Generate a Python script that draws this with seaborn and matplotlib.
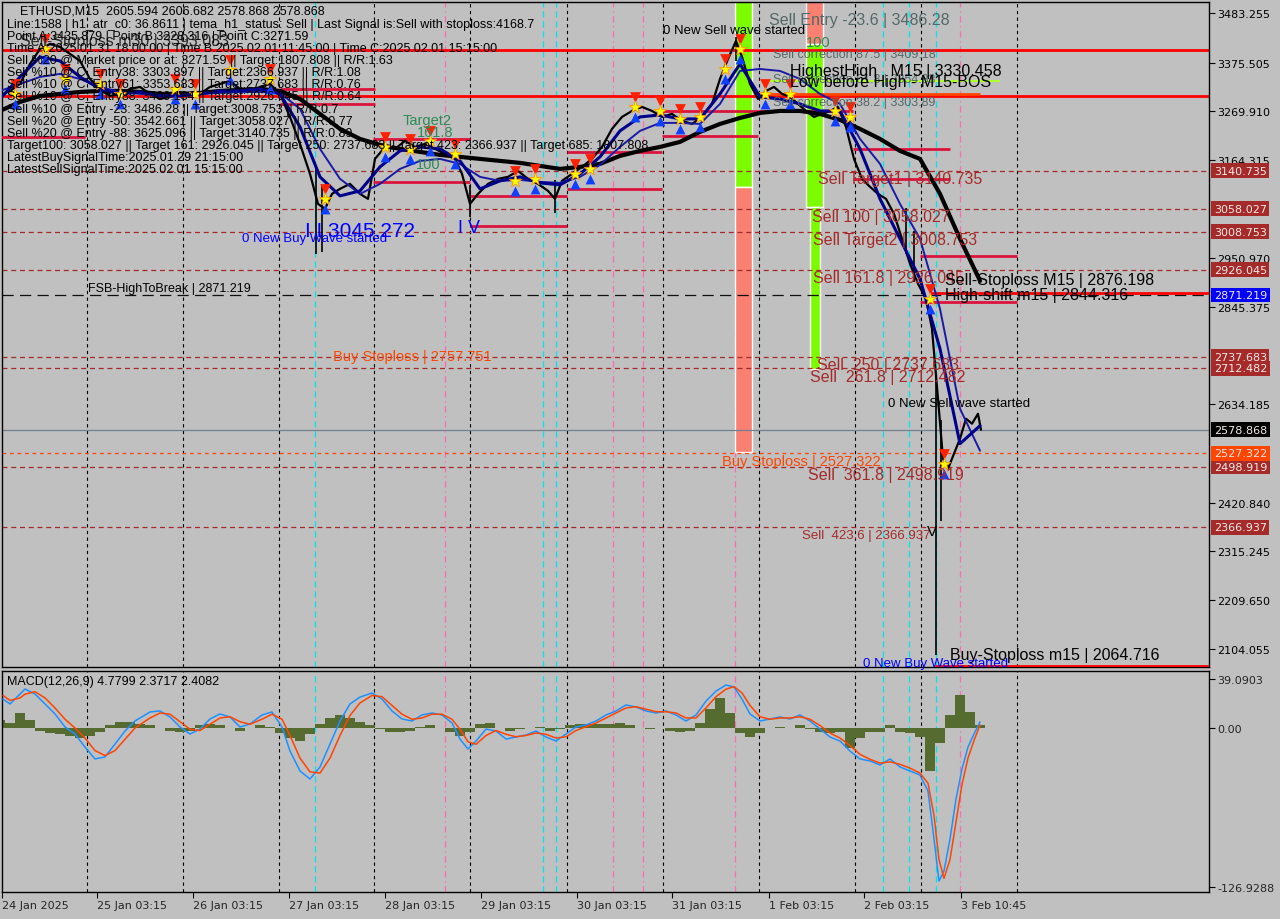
import matplotlib
matplotlib.use('Agg')
import matplotlib.pyplot as plt
import seaborn as sns
from matplotlib.transforms import blended_transform_factory

# ---- price bars (bar position, close) ----
bar_x = [3, 10, 20, 30, 40, 50, 60, 70, 80, 90, 100, 110, 120, 130, 140, 150, 160, 170, 180, 190,
         200, 210, 220, 230, 240, 250, 260, 270, 280, 290, 300, 310, 318, 325, 332, 340, 350, 360, 368,
         375, 385, 395, 405, 415, 425, 435, 445, 455, 462, 470, 478, 488, 498, 508, 518, 528, 538, 548,
         555, 562, 572, 582, 592, 602, 612, 622, 632, 642, 652, 662, 672, 682, 692, 702, 712, 720, 728,
         736, 742, 750, 758, 766, 774, 782, 790, 798, 806, 814, 822, 830, 838, 846, 854, 862, 870, 878,
         886, 894, 902, 910, 918, 926, 932, 938, 943, 948, 954, 960, 966, 972, 978, 981]
close = [3307.6, 3314.1, 3329.3, 3372.7, 3405.2, 3416.0, 3409.5, 3394.4, 3379.2, 3340.1, 3318.4, 3303.3,
         3307.6, 3318.4, 3322.8, 3307.6, 3296.8, 3301.1, 3311.9, 3305.4, 3307.6, 3322.8, 3329.3, 3335.8,
         3318.4, 3314.1, 3322.8, 3329.3, 3307.6, 3257.7, 3199.2, 3134.1, 3069.0, 3058.2, 3090.7, 3101.6,
         3112.4, 3090.7, 3079.9, 3166.6, 3192.6, 3188.3, 3205.7, 3192.6, 3199.2, 3188.3, 3177.5, 3166.6,
         3134.1, 3069.0, 3090.7, 3112.4, 3123.3, 3127.6, 3140.6, 3123.3, 3112.4, 3097.2, 3079.9, 3119.0,
         3134.1, 3149.3, 3166.6, 3192.6, 3231.7, 3257.7, 3270.7, 3279.4, 3270.7, 3257.7, 3264.2, 3249.0,
         3242.5, 3257.7, 3285.9, 3340.1, 3383.5, 3422.5, 3387.8, 3329.3, 3296.8, 3314.1, 3322.8, 3307.6,
         3301.1, 3285.9, 3270.7, 3257.7, 3264.2, 3270.7, 3279.4, 3236.0, 3166.6, 3123.3, 3106.0, 3090.7,
         3079.9, 3047.4, 2993.2, 2939.0, 2895.6, 2863.0, 2798.0, 2646.2, 2516.0, 2494.4, 2526.9, 2559.4,
         2602.8, 2592.0, 2613.6, 2578.868]
wick_x = [316, 322, 470, 555, 736, 906, 914, 936, 941]
wick_low = [2960.6, 2965.0, 3040.9, 3050.0, 3380.0, 2960.0, 2900.0, 2089.0, 2380.0]
wick_high = [3150.0, 3110.0, 3110.0, 3120.0, 3431.2, 3060.0, 3010.0, 2700.0, 2600.0]

# ---- moving averages ----
ma_x = [0, 20, 40, 60, 80, 100, 120, 140, 160, 180, 200, 220, 240, 260, 280, 300, 320, 340, 360, 380,
        400, 420, 440, 460, 480, 500, 520, 540, 560, 580, 600, 620, 640, 660, 680, 700, 720, 740, 760,
        780, 800, 820, 840, 860, 880, 900, 920, 940, 960, 980]
ma_fast = [3296.7, 3344.5, 3387.8, 3379.1, 3344.5, 3318.4, 3307.6, 3311.9, 3303.3, 3303.3, 3307.6, 3314.1,
           3314.1, 3318.4, 3307.6, 3236.0, 3127.6, 3086.4, 3097.2, 3149.3, 3184.0, 3192.6, 3188.3, 3162.3,
           3101.6, 3118.9, 3127.6, 3114.6, 3110.3, 3134.1, 3171.0, 3227.4, 3257.7, 3262.0, 3253.4, 3253.4,
           3307.6, 3372.6, 3301.1, 3296.7, 3285.9, 3270.7, 3270.7, 3188.3, 3079.9, 2993.2, 2906.4, 2754.6,
           2548.6, 2587.6]
ma_mid = [3314.1, 3329.3, 3344.5, 3351.0, 3340.1, 3322.8, 3311.9, 3307.6, 3305.4, 3305.4, 3307.6, 3309.8,
          3311.9, 3311.9, 3309.8, 3275.1, 3188.3, 3123.3, 3090.7, 3112.4, 3144.9, 3162.3, 3166.6, 3155.8,
          3127.6, 3118.9, 3121.1, 3116.8, 3114.6, 3127.6, 3153.6, 3192.6, 3227.4, 3244.7, 3244.7, 3242.5,
          3285.9, 3357.5, 3361.8, 3357.5, 3340.1, 3307.6, 3285.9, 3210.0, 3155.8, 3069.0, 2993.2, 2841.3,
          2624.5, 2533.4]
ma_slow = [3270.7, 3290.2, 3303.3, 3307.6, 3311.9, 3314.1, 3314.1, 3311.9, 3307.6, 3307.6, 3309.8, 3314.1,
           3316.3, 3318.4, 3314.1, 3296.7, 3264.2, 3231.7, 3210.0, 3197.0, 3188.3, 3181.8, 3175.3, 3171.0,
           3166.6, 3162.3, 3158.0, 3151.4, 3144.9, 3149.3, 3155.8, 3173.1, 3184.0, 3192.6, 3203.5, 3225.2,
           3242.5, 3255.5, 3266.4, 3270.7, 3270.7, 3264.2, 3251.2, 3231.7, 3210.0, 3184.0, 3166.6, 3090.7,
           2993.2, 2902.1]

# ---- signal stars ----
star_x = [15, 45, 65, 100, 120, 175, 195, 230, 270, 325, 385, 410, 430, 455, 515, 535, 575, 590, 635,
          660, 680, 700, 725, 740, 765, 790, 835, 850, 930, 944]
star_p = [3307.6, 3405.2, 3340.1, 3329.3, 3307.6, 3318.4, 3307.6, 3359.5, 3340.1, 3079.9, 3192.6, 3188.3,
          3205.7, 3177.5, 3119.0, 3123.3, 3134.1, 3144.9, 3279.4, 3270.7, 3253.4, 3257.7, 3361.8, 3405.2,
          3307.6, 3307.6, 3270.7, 3257.7, 2863.0, 2505.2]

# ---- levels ----
level_prices = [3140.735, 3058.027, 3008.753, 2926.045, 2737.683, 2712.482, 2498.919, 2366.937]
red_full = [3403.18, 3303.89]
seg_x0 = [0, 280, 280, 373, 373, 470, 470, 567, 567, 662, 662, 758, 853, 853, 920, 920]
seg_x1 = [85, 375, 375, 470, 470, 567, 567, 662, 662, 758, 758, 853, 950, 950, 1017, 1017]
seg_p = [3214.3, 3318.4, 3285.9, 3210.0, 3116.8, 3086.4, 3021.3, 3181.8, 3101.6, 3270.7, 3216.5, 3270.7,
         3188.3, 3123.3, 2956.3, 2855.0]
fsb_level = 2871.219
last_price = 2578.868
buy_sl = 2527.322
sell_sl_m15 = 2876.198
buy_sl_m15 = 2066.0

price_ticks = [3483.255, 3375.505, 3269.910, 3164.315, 2950.970, 2845.375, 2634.185, 2420.840,
               2315.245, 2209.650, 2104.055]

# ---- MACD ----
macd_x = [3, 10, 20, 25, 35, 45, 55, 65, 75, 85, 95, 105, 115, 125, 135, 150, 160, 170, 180, 190, 200,
          210, 220, 230, 240, 250, 262, 272, 282, 290, 300, 310, 320, 330, 340, 350, 360, 372, 382, 392,
          402, 412, 422, 432, 442, 452, 460, 468, 476, 486, 496, 506, 516, 526, 536, 546, 556, 566, 576,
          586, 596, 606, 616, 626, 636, 646, 656, 666, 676, 686, 696, 706, 716, 726, 734, 742, 750, 760,
          770, 780, 790, 800, 810, 820, 830, 840, 850, 860, 870, 880, 890, 900, 910, 920, 928, 934, 939,
          944, 950, 956, 962, 968, 974, 980]
macd_main = [23.1, 19.2, 27.1, 31.1, 27.1, 19.2, 11.2, 0.8, -4.8, -15.2, -24.7, -23.1, -12.8, -2.4, 5.6,
             12.8, 13.6, 8.8, 0.8, -4.8, -0.8, 7.2, 11.2, 8.8, 0.8, 3.2, 10.4, 12.8, 0.8, -18.4, -34.3,
             -40.7, -31.1, -12.8, 5.6, 19.2, 24.7, 27.9, 23.1, 13.6, 7.2, 5.6, 10.4, 12.0, 10.4, 4.0, -8.8,
             -16.8, -10.4, -0.8, -2.4, -8.8, -7.2, -5.6, -2.4, -7.2, -10.4, -4.8, 0.8, 2.4, 5.6, 10.4, 13.6,
             18.4, 16.8, 13.6, 12.0, 13.6, 10.4, 5.6, 10.4, 21.5, 29.5, 34.3, 32.7, 23.1, 11.2, 5.6, 7.2,
             8.8, 7.2, 10.4, 5.6, -0.8, -7.2, -10.4, -18.4, -24.7, -26.3, -29.5, -24.7, -31.1, -34.3,
             -37.5, -50.3, -88.6, -122.1, -114.1, -88.6, -56.7, -32.7, -15.2, -4.8, 4.78]
macd_signal = [26, 22, 24, 27, 29, 24, 16, 7, 0, -8, -18, -22, -18, -9, 0, 8, 12, 11, 5, -1, -2, 3, 8, 9,
               5, 3, 7, 11, 7, -6, -24, -35, -36, -24, -6, 10, 20, 26, 25, 18, 11, 7, 8, 11, 11, 7, -1,
               -11, -13, -6, -2, -5, -7, -6, -4, -5, -8, -7, -2, 1, 4, 8, 12, 16, 17, 15, 13, 13, 12, 8, 8,
               16, 25, 31, 33, 28, 18, 9, 7, 8, 8, 9, 7, 2, -4, -8, -14, -21, -25, -28, -27, -29, -32, -36,
               -44, -70, -105, -120, -105, -75, -45, -24, -10, 2.37]
hist_x = [0, 10, 20, 30, 40, 50, 60, 70, 80, 90, 100, 110, 120, 130, 140, 150, 160, 170, 180, 190, 200,
          210, 220, 230, 240, 250, 260, 270, 280, 290, 300, 310, 320, 330, 340, 350, 360, 370, 380, 390,
          400, 410, 420, 430, 440, 450, 460, 470, 480, 490, 500, 510, 520, 530, 540, 550, 560, 570, 580,
          590, 600, 610, 620, 630, 640, 650, 660, 670, 680, 690, 700, 710, 720, 730, 740, 750, 760, 770,
          780, 790, 800, 810, 820, 830, 840, 850, 860, 870, 880, 890, 900, 910, 920, 930, 940, 950, 960,
          970, 980]
hist = [6, 4, 12, 6, -2, -4, -5, -6, -8, -6, -3, 2, 5, 5, 3, 2, 0, -2, -3, -2, 2, 3, 2, 0, -2, 0, 2, 1,
        -4, -8, -10, -5, 3, 8, 10, 8, 5, 2, -1, -3, -3, -2, 1, 2, 0, -3, -6, -3, 3, 4, 0, -2, -1, 0, 1,
        -2, -1, 2, 3, 3, 3, 3, 4, 2, 0, -1, 0, -2, -3, -2, 4, 15, 24, 12, -4, -7, -4, 0, 1, 0, 2, -1, -3,
        -4, -3, -16, -8, -3, -3, 2, -3, -4, -7, -34, -12, 10, 26, 13, 2.4]

date_ticks = [2, 97, 193, 289, 385, 481, 577, 672, 769, 864, 961]
date_labels = ['24 Jan 2025', '25 Jan 03:15', '26 Jan 03:15', '27 Jan 03:15', '28 Jan 03:15',
               '29 Jan 03:15', '30 Jan 03:15', '31 Jan 03:15', '1 Feb 03:15', '2 Feb 03:15',
               '3 Feb 10:45']
grid_x = [87, 183, 279, 374, 470, 567, 663, 759, 855, 921, 1017]
pink_x = [445, 613, 643, 735, 960]
cyan_x = [315, 543, 556, 883, 909, 936]

info_lines = [
    'Line:1588 | h1_atr_c0: 36.8611 | tema_h1_status: Sell | Last Signal is:Sell with stoploss:4168.7',
    'Point A:3435.879 | Point B:3228.316 | Point C:3271.59',
    'Time A:2025.01.31 18:00:00 | Time B:2025.02.01 11:45:00 | Time C:2025.02.01 15:15:00',
    'Sell %20 @ Market price or at: 3271.59 || Target:1807.808 || R/R:1.63',
    'Sell %10 @ C_Entry38: 3303.897 || Target:2366.937 || R/R:1.08',
    'Sell %10 @ C_Entry61: 3353.683 || Target:2737.683 || R/R:0.76',
    'Sell %10 @ C_Entry88: 3409.184 || Target:2926.045 || R/R:0.64',
    'Sell %10 @ Entry -23: 3486.28 || Target:3008.753 || R/R:0.7',
    'Sell %20 @ Entry -50: 3542.661 || Target:3058.027 || R/R:0.77',
    'Sell %20 @ Entry -88: 3625.096 || Target:3140.735 || R/R:0.89',
    'Target100: 3058.027 || Target 161: 2926.045 || Target 250: 2737.683 || Target 423: 2366.937 || Target 685: 1807.808',
    'LatestBuySignalTime:2025.01.29 21:15:00',
    'LatestSellSignalTime:2025.02.01 15:15:00',
]

BG = '#c0c0c0'
BROWN = '#a52a2a'
CRIMSON = '#dc143c'
sns.set_theme(style='white', rc={'axes.facecolor': BG, 'figure.facecolor': BG})
plt.rcParams['font.family'] = ['DejaVu Sans']
OBJ = ['Liberation Sans', 'DejaVu Sans']

fig = plt.figure(figsize=(12.8, 9.2), dpi=100)
W, H = 1280, 920
ax = fig.add_axes([2 / W, 1 - 668 / H, 1207 / W, 665 / H])
axm = fig.add_axes([2 / W, 1 - 893 / H, 1207 / W, 221 / H])

for a in (ax, axm):
    a.set_facecolor(BG)
    a.set_xlim(2, 1209)
    for s in a.spines.values():
        s.set_color('black')
        s.set_linewidth(1.0)
    for gx in grid_x:
        a.axvline(gx, color='black', lw=0.8, ls=(0, (3, 3)), zorder=1)
    for px in pink_x:
        a.axvline(px, color='#ff69b4', lw=0.9, ls=(0, (5, 3, 1, 3)), zorder=1)
    for cx in cyan_x:
        a.axvline(cx, color='#00e5ee', lw=0.9, ls=(0, (5, 3)), zorder=1)

ax.set_ylim(2064.0, 3507.1)
axm.set_ylim(-130.9, 45.5)

# coloured vertical zones
ax.bar(743.5, 3510 - 3105.9, bottom=3105.9, width=17, color='#7cfc00', zorder=1)
ax.bar(743.5, 3105.9 - 2531.3, bottom=2531.3, width=17, color='#fa8072', zorder=1)
ax.bar(814.5, 3510 - 3416.0, bottom=3416.0, width=17, color='#fa8072', zorder=1)
ax.bar(814.5, 3416.0 - 3062.5, bottom=3062.5, width=17, color='#7cfc00', zorder=1)
ax.bar(815, 3062.5 - 2711.2, bottom=2711.2, width=10, color='#7cfc00', zorder=1)

# level lines
for p in level_prices:
    ax.axhline(p, color=BROWN, lw=0.9, ls=(0, (4, 3)), zorder=2)
for p in red_full:
    ax.axhline(p, color='#ff0000', lw=2, zorder=2)
ax.axhline(fsb_level, color='#101010', lw=0.9, ls=(0, (9, 5)), zorder=2)
ax.axhline(buy_sl, color='#ff4500', lw=0.9, ls=(0, (3, 3)), zorder=2)
ax.axhline(last_price, color='#708090', lw=0.9, zorder=2)
ax.hlines(seg_p, seg_x0, seg_x1, color=CRIMSON, lw=2, zorder=3)
ax.hlines([sell_sl_m15, buy_sl_m15], [930, 935], [1209, 1209], color='#ff0000', lw=2, zorder=3)
ax.hlines([3307.6], [770], [980], color='#ff4500', lw=2, zorder=3)
ax.hlines([3335.8], [770], [1000], color='#adff2f', lw=1.5, zorder=3)

# price + MAs
ax.vlines(wick_x, wick_low, wick_high, color='black', lw=1.2, zorder=4)
sns.lineplot(x=bar_x, y=close, ax=ax, color='black', lw=1.6, sort=False, estimator=None, zorder=4)
sns.lineplot(x=ma_x, y=ma_slow, ax=ax, color='black', lw=3, sort=False, estimator=None, zorder=5)
sns.lineplot(x=ma_x, y=ma_mid, ax=ax, color='#1a1aa8', lw=1.4, sort=False, estimator=None, zorder=5)
sns.lineplot(x=ma_x, y=ma_fast, ax=ax, color='#00008b', lw=2.2, sort=False, estimator=None, zorder=5)

# signal markers
ax.scatter(star_x, [p + 22 for p in star_p], marker='v', s=60, color='#ff2000', zorder=6, lw=0)
ax.scatter(star_x, [p - 22 for p in star_p], marker='^', s=50, color='#1040ff', zorder=6, lw=0)
ax.scatter(star_x, star_p, marker='*', s=90, color='#ffff00', edgecolor='#ff8c00', lw=0.5, zorder=7)

# info block
ax.annotate('ETHUSD,M15  2605.594 2606.682 2578.868 2578.868', xy=(0, 1), xycoords='axes fraction',
            xytext=(18, -9), textcoords='offset pixels', va='center', fontsize=9, family=OBJ,
            color='black', zorder=9)
for i, line in enumerate(info_lines):
    ax.annotate(line, xy=(0, 1), xycoords='axes fraction', xytext=(5, -22 - 12.08 * i),
                textcoords='offset pixels', va='center', fontsize=9, family=OBJ, color='black', zorder=9)
ax.text(20, 3422.5, 'Sell-Stoploss m30 | 3393.083', fontsize=11.5, family=OBJ, color='#2a2a2a',
        va='center', zorder=8)

# chart object texts
texts = [
    (663, 3446.4, '0 New Sell wave started', 'black', 9.5),
    (769, 3470.2, 'Sell Entry -23.6 | 3486.28', '#556868', 11.5),
    (806, 3420.4, '100', '#2e8b57', 10.5),
    (773, 3394.3, 'Sell correction 87.5 | 3409.18', '#556868', 9),
    (773, 3340.1, 'Sell correction 61.8 | 3354.83', '#556868', 9),
    (790, 3357.5, 'HighestHigh   M15 | 3330.458', 'black', 11.5),
    (790, 3333.6, 'Low before High - M15-BOS', 'black', 11.5),
    (773, 3290.2, 'Sell correction 38.2 | 3303.89', '#556868', 9),
    (403, 3251.2, 'Target2', '#2e8b57', 10.5),
    (417, 3225.2, '161.8', '#2e8b57', 10.5),
    (416, 3155.8, '100', '#2e8b57', 10.5),
    (305, 3010.5, 'I I 3045.272', '#0000ff', 15),
    (242, 2995.3, '0 New Buy Wave started', '#0000ff', 9.5),
    (458, 3017.0, 'I V', '#0000ff', 13),
    (88, 2886.9, 'FSB-HighToBreak | 2871.219', 'black', 9),
    (333, 2739.4, 'Buy Stoploss | 2757.751', '#ff4500', 10.5),
    (818, 3123.3, 'Sell Target1 | 3140.735', BROWN, 11.5),
    (812, 3040.9, 'Sell 100 | 3058.027', BROWN, 11.5),
    (813, 2991.0, 'Sell Target2 | 3008.753', BROWN, 11.5),
    (813, 2908.6, 'Sell 161.8 | 2926.045', BROWN, 11.5),
    (945, 2904.3, 'Sell-Stoploss M15 | 2876.198', 'black', 11.5),
    (945, 2871.7, 'High-shift m15 | 2844.316', 'black', 11.5),
    (817, 2719.9, 'Sell  250 | 2737.683', BROWN, 11.5),
    (810, 2693.9, 'Sell  261.8 | 2712.482', BROWN, 11.5),
    (888, 2637.5, '0 New Sell wave started', 'black', 9.5),
    (722, 2511.7, 'Buy Stoploss | 2527.322', '#ff4500', 10.5),
    (808, 2481.4, 'Sell  361.8 | 2498.919', BROWN, 11.5),
    (802, 2351.2, 'Sell  423.6 | 2366.937', BROWN, 9.5),
    (927, 2359.9, 'V', 'black', 11),
    (950, 2091.0, 'Buy-Stoploss m15 | 2064.716', 'black', 11.5),
    (863, 2073.6, '0 New Buy Wave started', '#0000ff', 9.5),
]
for x, y, s, c, fs in texts:
    ax.text(x, y, s, color=c, fontsize=fs, family=OBJ, va='center', ha='left', zorder=8)

# right price axis
ax.yaxis.tick_right()
ax.set_yticks(price_ticks)
ax.set_yticklabels([f'{t:.3f}' for t in price_ticks])
ax.tick_params(axis='y', length=4, width=0.8, color='black', labelsize=8, labelcolor='black', pad=2)
ax.set_xticks([])
ax.set_ylabel('')

tr = blended_transform_factory(ax.transAxes, ax.transData)
boxes = [(p, BROWN) for p in level_prices] + [(fsb_level, '#0000ff'), (last_price, 'black'),
                                               (buy_sl, '#ff4500')]
for p, c in boxes:
    ax.text(1.004, p, f'{p:.3f}', transform=tr, fontsize=8, color='#f4e8e8', va='center', ha='left',
            bbox=dict(boxstyle='square,pad=0.22', fc=c, ec='none'), zorder=10)

# MACD panel
axm.bar(hist_x, hist, width=10, color='#556b2f', lw=0, zorder=2)
sns.lineplot(x=macd_x, y=macd_main, ax=axm, color='#1e90ff', lw=1.1, sort=False, estimator=None, zorder=3)
sns.lineplot(x=macd_x, y=macd_signal, ax=axm, color='#ff4500', lw=1.1, sort=False, estimator=None, zorder=3)
axm.yaxis.tick_right()
axm.set_yticks([39.0903, 0.0, -126.9288])
axm.set_yticklabels(['39.0903', '0.00', '-126.9288'])
axm.tick_params(axis='y', length=4, width=0.8, color='black', labelsize=8, pad=2)
axm.set_xticks(date_ticks)
axm.set_xticklabels(date_labels, ha='left')
axm.tick_params(axis='x', length=4, width=0.8, color='black', labelsize=8, pad=2, bottom=True)
axm.set_ylabel('')
axm.annotate('MACD(12,26,9) 4.7799 2.3717 2.4082', xy=(0, 1), xycoords='axes fraction',
             xytext=(5, -10), textcoords='offset pixels', va='center', fontsize=9, family=OBJ,
             color='black')

fig.savefig('out.png', dpi=100, facecolor=BG)
